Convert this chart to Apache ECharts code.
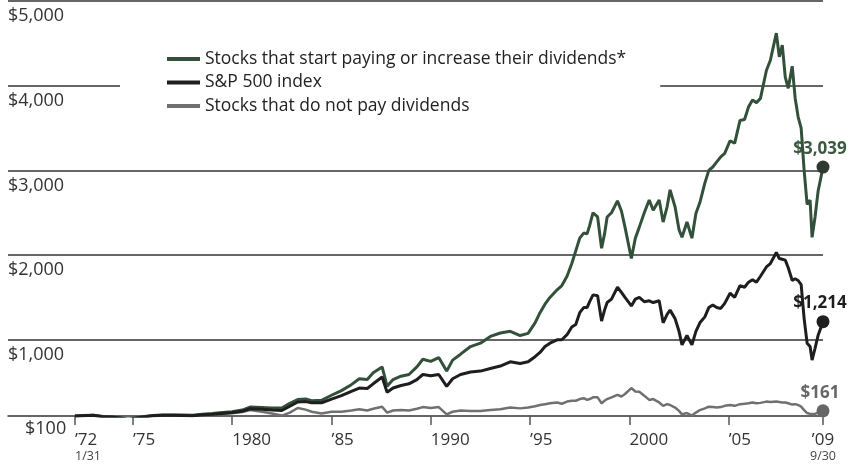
<!DOCTYPE html>
<html><head><meta charset="utf-8">
<script src="https://cdn.jsdelivr.net/npm/echarts@6/dist/echarts.min.js"></script>
<style>html,body{margin:0;padding:0;background:#fff}#c{width:852px;height:464px}</style>
</head><body><div id="c"></div>
<script>
// decimal years
var dates = [
 1972.08,1972.5,1973.0,1973.5,1974.0,1974.5,1974.75,1975.0,1975.5,1976.0,
 1976.5,1977.0,1977.5,1978.0,1978.5,1979.0,1979.5,1980.0,1980.5,1980.9,
 1981.5,1982.0,1982.5,1982.9,1983.3,1983.7,1984.0,1984.5,1985.0,1985.5,
 1986.0,1986.4,1986.8,1987.1,1987.55,1987.8,1988.1,1988.5,1988.9,1989.3,
 1989.6,1990.0,1990.4,1990.8,1991.1,1991.5,1992.0,1992.5,1993.0,1993.5,
 1994.0,1994.5,1994.9,1995.25,1995.5,1995.75,1996.0,1996.36,1996.6,1996.86,
 1997.1,1997.3,1997.5,1997.7,1997.87,1998.0,1998.17,1998.4,1998.6,1998.75,
 1998.88,1999.1,1999.4,1999.6,1999.78,2000.1,2000.3,2000.5,2000.75,2001.0,
 2001.2,2001.5,2001.7,2001.9,2002.05,2002.3,2002.5,2002.65,2002.9,2003.15,
 2003.35,2003.55,2003.8,2004.0,2004.2,2004.4,2004.6,2004.8,2005.07,2005.3,
 2005.57,2005.8,2006.0,2006.2,2006.4,2006.6,2006.9,2007.1,2007.4,2007.55,
 2007.7,2007.85,2008.0,2008.2,2008.35,2008.5,2008.65,2008.8,2008.95,2009.1,
 2009.2,2009.35,2009.5,2009.75
];
var growers = [
 100,106,108,95,88,75,64,72,90,105,
 112,112,112,108,122,130,140,150,170,205,
 200,195,195,250,295,300,280,285,345,400,
 470,540,530,610,680,450,530,570,590,680,
 770,745,790,630,760,830,920,960,1040,1080,
 1100,1050,1075,1200,1320,1420,1500,1590,1640,1750,
 1900,2050,2200,2260,2250,2350,2500,2450,2080,2250,
 2450,2500,2640,2520,2330,1960,2200,2330,2500,2650,
 2530,2650,2390,2570,2770,2570,2300,2210,2390,2200,
 2490,2620,2850,3000,3040,3100,3160,3200,3350,3320,
 3590,3600,3750,3830,3800,3850,4180,4300,4620,4340,
 4480,4100,3970,4230,3850,3630,3500,3000,2600,2650,
 2210,2450,2750,3039
];
var sp500 = [
 100,104,108,92,85,70,60,68,88,102,
 108,108,106,102,115,120,130,140,155,185,
 180,170,165,215,265,270,255,255,300,340,
 390,430,425,480,560,380,430,460,480,530,
 590,575,590,450,540,590,620,630,660,690,
 740,720,740,800,850,920,960,1000,1000,1060,
 1150,1180,1320,1380,1380,1450,1530,1520,1220,1350,
 1440,1480,1620,1560,1500,1400,1480,1500,1450,1460,
 1440,1460,1200,1300,1350,1250,1100,940,1050,940,
 1100,1200,1270,1380,1410,1380,1370,1430,1550,1500,
 1640,1620,1680,1710,1680,1750,1860,1900,2030,1960,
 1950,1940,1850,1700,1720,1700,1650,1250,960,920,
 760,900,1050,1214
];
var nonPayers = [
 100,103,104,90,82,68,58,66,86,100,
 104,104,105,100,112,118,126,132,148,170,
 150,130,105,140,195,175,150,130,150,150,
 165,180,165,185,210,140,165,170,165,185,
 205,195,205,120,150,165,160,160,170,180,
 200,190,200,215,230,240,250,260,245,270,
 280,280,300,310,290,300,320,320,250,280,
 300,320,350,330,360,430,390,385,340,290,
 300,260,220,240,230,200,160,120,135,105,
 140,170,190,210,205,200,205,220,230,220,
 240,245,250,260,250,255,270,265,270,265,
 260,260,250,235,240,230,210,170,135,125,
 110,125,140,161
];
var seriesNames = ['Stocks that start paying or increase their dividends*','S&P 500 index','Stocks that do not pay dividends'];
var endLabels = ['$3,039','$1,214','$161'];
var yTickValues = [100,1000,2000,3000,4000,5000];
var yTickLabels = ['$100','$1,000','$2,000','$3,000','$4,000','$5,000'];
var xTickValues = [1972.083,1975,1980,1985,1990,1995,2000,2005,2009.75];
var xTickLabels = ['\u201972','\u201975','1980','\u201985','1990','\u201995','2000','\u201905','\u201909'];
var xSubLabels = {0:'1/31', 8:'9/30'};

function pairs(vals){ return vals.map(function(v,i){ return [dates[i], v]; }); }
var colors = ['#33503a','#1e1e1e','#707070'];
var dotColors = ['#2e3a31','#1e1e1e','#666666'];
var labelColors = ['#3a5a40','#1e1e1e','#666666'];
var vals = [growers, sp500, nonPayers];
var widths = [3,3,2.5];
var FONT = '"Open Sans", Roboto, sans-serif';

var series = vals.map(function(v,i){
  var last = v.length-1;
  return {
    name: seriesNames[i], type:'line', data: pairs(v), symbol:'none', smooth:false,
    lineStyle:{color:colors[i], width:widths[i]}, itemStyle:{color:colors[i]},
    z: [4,5,3][i],
    markPoint:{
      symbol:'circle', symbolSize:13, itemStyle:{color:dotColors[i]},
      label:{show:true, position:'top', distance:3, formatter:endLabels[i], color:labelColors[i],
        fontFamily:FONT, fontWeight:'bold', fontSize:17, offset:[-3,0]},
      data:[{coord:[dates[last], v[last]]}]
    }
  };
});

var chart = echarts.init(document.getElementById('c'), null, {renderer:'canvas'});
chart.setOption({
  animation:false,
  backgroundColor:'#fff',
  grid:{left:8, right:29, top:1, bottom:48, containLabel:false},
  legend:{
    orient:'vertical', left:120, top:44, padding:[6,34,6,47], backgroundColor:'#fff',
    itemWidth:33, itemHeight:4, itemGap:5.5, icon:'rect', z:10,
    data: seriesNames,
    textStyle:{fontFamily:FONT, fontSize:17.5, color:'#222', lineHeight:18}
  },
  xAxis:{
    type:'value', min:1968.71, max:2009.75,
    splitLine:{show:false},
    axisLine:{show:true, lineStyle:{color:'#333', width:1.5}},
    axisTick:{show:true, customValues:xTickValues, length:9, lineStyle:{color:'#555', width:1.5}},
    axisLabel:{
      customValues:xTickValues, align:'left', alignMaxLabel:'center', margin:15,
      formatter:function(val){
        var idx=0, best=1e9;
        xTickValues.forEach(function(t,i){ var d=Math.abs(t-val); if(d<best){best=d; idx=i;} });
        var s='{a|'+xTickLabels[idx]+'}';
        if(xSubLabels[idx]) s += '\n{b|'+xSubLabels[idx]+'}';
        return s;
      },
      rich:{
        a:{fontFamily:FONT, fontSize:17, color:'#333', lineHeight:18},
        b:{fontFamily:FONT, fontSize:12.5, color:'#444', lineHeight:14}
      }
    }
  },
  yAxis:{
    type:'value', min:100, max:5000,
    axisLine:{show:false},
    axisTick:{show:false, customValues:[1000,2000,3000,4000,5000]},
    splitLine:{show:true, lineStyle:{color:'#333', width:1.5}},
    axisLabel:{
      customValues:yTickValues, inside:true, margin:0, verticalAlign:'top',
      formatter:function(val){
        var i = yTickValues.indexOf(val);
        if(val===100) return '{s|'+yTickLabels[i]+'}';
        return '{n|'+yTickLabels[i]+'}';
      },
      rich:{
        n:{fontFamily:FONT, fontSize:18, color:'#333', padding:[6,0,0,0]},
        s:{fontFamily:FONT, fontSize:18, color:'#333', padding:[4,0,0,17]}
      }
    }
  },
  series: series
});
</script></body></html>
